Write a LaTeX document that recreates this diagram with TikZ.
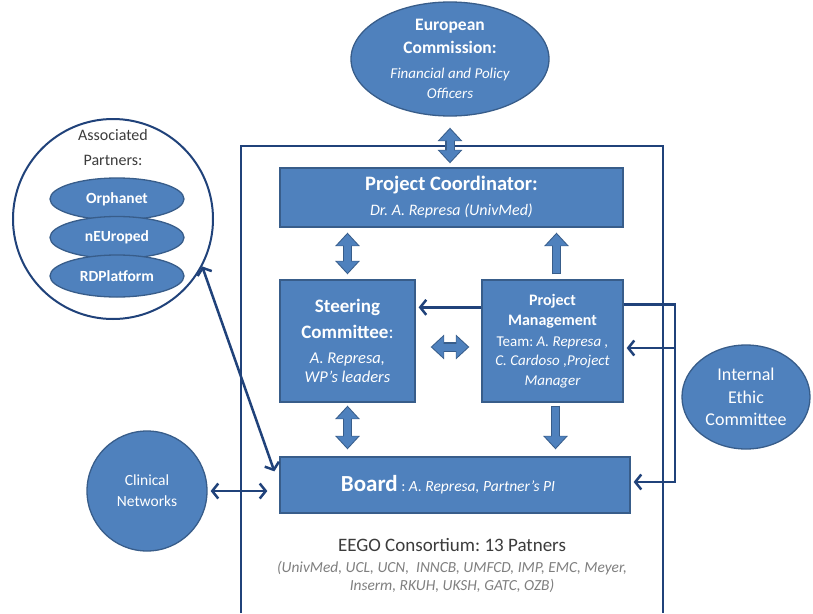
\documentclass[tikz,border=0pt]{standalone}
\usepackage{fontspec}
\setmainfont{Carlito}
\usetikzlibrary{arrows.meta,shapes.geometric,calc}
\definecolor{bfill}{HTML}{4F81BD}
\definecolor{bedge}{HTML}{385D8A}
\definecolor{navy}{HTML}{20427A}
\definecolor{darktxt}{HTML}{3C3C3C}
\definecolor{graytxt}{HTML}{7F7F7F}
\newcommand{\boxtxt}[3]{\vbox to 0pt{\vss\hbox to 0pt{\hss\raisebox{#2}{\parbox{#1}{\centering #3}}\hss}\vss}}
\newcommand{\fsz}[2]{\fontsize{#1}{#2}\selectfont}
\frenchspacing
\begin{document}
\frenchspacing
\begin{tikzpicture}[x=1pt,y=-1pt,
  shp/.style={draw=bedge, line width=1.3pt, fill=bfill, text=white, inner sep=0pt},
  rbox/.style={shp, rectangle},
  ebox/.style={shp, ellipse},
  conn/.style={draw=navy, line width=2.5pt, arrows={-{Straight Barb[length=6pt,width=15pt]}}},
  conntwo/.style={draw=navy, line width=2.5pt, arrows={{Straight Barb[length=6pt,width=15pt]}-{Straight Barb[length=6pt,width=15pt]}}},
  blkone/.style={
    preaction={draw=bedge, line width=9.6pt, shorten >=0pt, shorten <=0pt,
      arrows={-{Triangle[length=13.5pt,width=24pt]}}},
    draw=bfill, line width=7pt, shorten >=1.5pt, shorten <=1.3pt,
    arrows={-{Triangle[length=11.5pt,width=20.5pt]}}},
  blktwo/.style={
    preaction={draw=bedge, line width=9.6pt, shorten >=0pt, shorten <=0pt,
      arrows={{Triangle[length=13.5pt,width=24pt]}-{Triangle[length=13.5pt,width=24pt]}}},
    draw=bfill, line width=7pt, shorten >=1.5pt, shorten <=1.5pt,
    arrows={{Triangle[length=11.5pt,width=20.5pt]}-{Triangle[length=11.5pt,width=20.5pt]}}},
  frameline/.style={draw=navy, line width=2pt}
]
\useasboundingbox (0,0) rectangle (813,613);
\fill[white] (0,0) rectangle (813,613);

% consortium frame
\draw[frameline] (241,613) -- (241,146) -- (663,146) -- (663,613);

% European Commission
\node[ebox, minimum width=198pt, minimum height=114pt] (ec) at (450,59)
  {\boxtxt{190pt}{-6pt}{{\fsz{17.5}{23}\bfseries European\par Commission:\par}{\fsz{15}{25}\itshape Financial and Policy\par}{\fsz{15}{20}\itshape Officers\par}}};

% Project coordinator
\node[rbox, minimum width=343pt, minimum height=59pt] (pc) at (451.5,197.5)
  {\boxtxt{330pt}{-2pt}{{\fsz{20.5}{21}\bfseries Project Coordinator:\par}{\fsz{16}{25}\itshape Dr. A. Represa (UnivMed)\par}}};

% Steering committee
\node[rbox, minimum width=135pt, minimum height=122pt] (sc) at (347.5,341)
  {\boxtxt{130pt}{0pt}{{\fsz{19}{26}\bfseries Steering\par Committee\mdseries:\par}{\fsz{16.5}{25}\itshape A. Represa,\par}{\fsz{16.5}{19.5}\itshape WP’s leaders\par}}};

% Project management team
\node[rbox, minimum width=141pt, minimum height=122pt] (pm) at (552.5,341)
  {\boxtxt{138pt}{0pt}{{\fsz{16}{20}\bfseries Project\par Management\par}{\fsz{15}{21}Team: \itshape A. Represa ,\par}{\fsz{15}{19.5}\itshape C. Cardoso ,Project\par Manager\par}}};

% Board
\node[rbox, minimum width=350pt, minimum height=56pt] (bd) at (455,485)
  {\boxtxt{340pt}{0pt}{{\fsz{23}{23}\bfseries Board}{\fsz{15.5}{23} : \itshape A. Represa, Partner’s PI}\hspace*{14pt}\par}};

% consortium text
\node[text=darktxt, inner sep=0pt] (eego) at (452,545)
  {\boxtxt{400pt}{0pt}{\fsz{19}{19}EEGO Consortium: 13 Patners\par}};
\node[text=graytxt, inner sep=0pt] (plist) at (452,577)
  {\boxtxt{400pt}{0pt}{\fsz{15.4}{18.5}\itshape (UnivMed, UCL, UCN,\ \ INNCB, UMFCD, IMP, EMC, Meyer,\par Inserm, RKUH, UKSH, GATC, OZB)\par}};

% Clinical networks
\node[shp, circle, minimum size=120pt] (cn) at (147,491)
  {\boxtxt{110pt}{1.5pt}{\fsz{15.5}{21}Clinical\par Networks\par}};

% Internal ethic committee
\node[ebox, minimum width=128pt, minimum height=104pt] (iec) at (746,397)
  {\boxtxt{120pt}{0pt}{\fsz{18}{22.5}Internal\par Ethic\par Committee\par}};

% Associated partners
\node[circle, draw=navy, line width=2pt, fill=white, minimum size=200pt, inner sep=0pt] (ap) at (113,219) {};
\node[text=darktxt, inner sep=0pt] (aptitle) at (113,147.5)
  {\boxtxt{150pt}{0pt}{\fsz{16}{25}Associated\par Partners:\par}};
\node[ebox, minimum width=134pt, minimum height=42pt] (orph) at (117,199)
  {\boxtxt{120pt}{0pt}{\fsz{15.5}{16}\bfseries Orphanet\par}};
\node[ebox, minimum width=134pt, minimum height=42pt] (neur) at (117,237.5)
  {\boxtxt{120pt}{0pt}{\fsz{15.5}{16}\bfseries nEUroped\par}};
\node[ebox, minimum width=134pt, minimum height=42pt] (rdp) at (117,276)
  {\boxtxt{120pt}{0pt}{\fsz{15.5}{16}\bfseries RDPlatform\par}};

% block arrows
\draw[blktwo] ($(ec.south)+(0,11)$) -- ($(ec.south |- pc.north)+(0,-4)$);
\draw[blktwo] ($(sc.north |- pc.south)+(0,5)$) -- ($(sc.north)+(0,-5)$);
\draw[blkone] ($(pm.north)+(4,-5)$) -- ($(pm.north |- pc.south)+(4,5)$);
\draw[blktwo] ($(sc.east)+(15,6)$) -- ($(pm.west)+(-12,6)$);
\draw[blktwo] ($(sc.south)+(0,3)$) -- ($(sc.south |- bd.north)+(0,-7)$);
\draw[blkone] ($(pm.south)+(3,3)$) -- ($(pm.south |- bd.north)+(3,-7)$);

% line connectors
\coordinate (rx) at (675,0);
\draw[conn] ($(pm.north west)+(0,28)$) -- ($(sc.north east)+(3,28)$);
\draw[conn] ($(pm.north east)+(0,25)$) -| ($(rx |- bd.east)+(0,-3)$) -- ($(bd.east)+(3,-3)$);
\draw[conn] ($(rx |- pm.east)+(0,7)$) -- ($(pm.east)+(3,7)$);
\draw[conntwo] (ap.-28) -- ($(bd.north west)+(-5,15)$);
\draw[conntwo] ($(cn.east)+(3,0)$) -- ($(cn.east -| bd.west)+(-12,0)$);
\end{tikzpicture}
\end{document}
